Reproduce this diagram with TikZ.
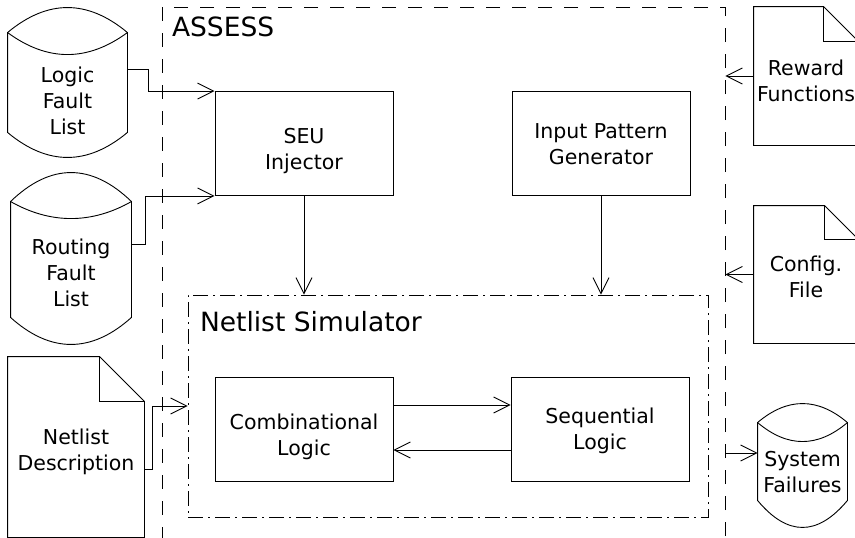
\documentclass[tikz,border=0pt]{standalone}
\usepackage{fontspec}
\setmainfont{DejaVu Sans}
\usetikzlibrary{arrows.meta}

% outline of a data store round node #1 (control width, top arc, inner arc, bottom arc)
\newcommand{\drawstore}[5]{%
  \draw (#1.north west) .. controls +(#2,-#3*1.333) and +(-#2,-#3*1.333) .. (#1.north east) -- %
    ([yshift=#5pt]#1.south east) .. controls +(-#2,#5*1.333) and +(#2,#5*1.333) .. %
    ([yshift=#5pt]#1.south west) -- cycle;
  \draw (#1.north west) .. controls +(#2,#4*1.333) and +(-#2,#4*1.333) .. (#1.north east);
}
% outline of a document with folded corner round node #1
\newcommand{\drawdoc}[2]{%
  \draw (#1.north west) -- ([xshift=-#2pt]#1.north east) -- ([yshift=-#2pt]#1.north east) -- %
    (#1.south east) -- (#1.south west) -- cycle;
  \draw ([xshift=-#2pt]#1.north east) |- ([yshift=-#2pt]#1.north east);
}

\begin{document}
\begin{tikzpicture}[x=1pt,y=-1pt,line width=0.9pt,
  every node/.style={font=\fontsize{20.5}{26}\selectfont,align=center,inner sep=0pt},
  block/.style={draw,minimum width=178pt,minimum height=104pt},
  group/.style={draw,dash pattern=on 14pt off 12pt},
  subgroup/.style={draw,dash pattern=on 15pt off 5pt on 2pt off 5pt},
  title/.style={font=\fontsize{26.5}{32}\selectfont,anchor=west},
  flow/.style={-{Straight Barb[length=16pt,width=16pt]}}]
\path[use as bounding box,clip] (0,0) rectangle (855,538);
% Frames
\node[group,minimum width=563pt,minimum height=538pt] (assess) at (443.5,276) {};
\node[title] (assesstitle) at ([xshift=10pt,yshift=-20.5pt]assess.north west) {ASSESS};
\node[subgroup,minimum width=520pt,minimum height=222pt] (nsim) at (448,406) {};
\node[title] (nsimtitle) at ([xshift=12pt,yshift=-27pt]nsim.north west) {Netlist Simulator};
% Blocks
\node[block,label={[name=seutext,yshift=-8pt]center:{SEU\\Injector}}] (seu) at (304,143.5) {};
\node[block,label={[name=ipgtext,yshift=-1pt]center:{Input Pattern\\Generator}}] (ipg) at (601,143.5) {};
\node[block,label={[name=combtext,yshift=-8pt]center:{Combinational\\Logic}}] (comb) at (304,429) {};
\node[block,label={[name=seqtext,yshift=-2pt]center:{Sequential\\Logic}}] (seq) at (600,429) {};
% Data stores
\node[minimum width=119pt,minimum height=124pt,
  label={[name=lfltext,yshift=-6pt]center:{Logic\\Fault\\List}}] (lfl) at (67.5,95) {};
\drawstore{lfl}{40}{25}{22}{25}
\node[minimum width=120pt,minimum height=142pt,
  label={[name=rfltext]center:{Routing\\Fault\\List}}] (rfl) at (71,273) {};
\drawstore{rfl}{40}{29}{17}{27}
\node[minimum width=89pt,minimum height=104pt,
  label={[name=sysftext,yshift=3pt]center:{System\\Failures}}] (sysf) at (802.5,475) {};
\drawstore{sysf}{30}{19}{19}{27}
% Documents
\node[minimum width=136pt,minimum height=180pt,
  label={[name=nldtext,yshift=-5pt]center:{Netlist\\Description}}] (nld) at (76,447) {};
\drawdoc{nld}{45}
\node[minimum width=104pt,minimum height=138pt,
  label={[name=rwdtext,yshift=-5pt]center:{Reward\\Functions}}] (rwd) at (806,76) {};
\drawdoc{rwd}{35}
\node[minimum width=104pt,minimum height=137pt,
  label={[name=cfgtext,yshift=-2pt]center:{Config.\\File}}] (cfg) at (806,274.5) {};
\drawdoc{cfg}{34}
% Connectors
\draw[flow] ([yshift=26pt]lfl.east) -- ++(21,0) |- (seu.north west);
\draw[flow] ([yshift=29pt]rfl.east) -- ++(14,0) |- (seu.south west);
\draw[flow] ([yshift=-22pt]nld.east) -- ++(8,0) |- (nsim.west);
\draw[flow] (seu.south) -- (seu.south |- nsim.north);
\draw[flow] (ipg.south) -- (ipg.south |- nsim.north);
\draw[flow] ([yshift=24pt]comb.east) -- ([yshift=24pt]seq.west);
\draw[flow] ([yshift=-21pt]seq.west) -- ([yshift=-21pt]comb.east);
\draw[flow] (rwd.west) -- (rwd.west -| assess.east);
\draw[flow] (cfg.west) -- (cfg.west -| assess.east);
\coordinate (failin) at ([yshift=22pt]sysf.west);
\draw[flow] (failin -| assess.east) -- (failin);
\end{tikzpicture}
\end{document}
